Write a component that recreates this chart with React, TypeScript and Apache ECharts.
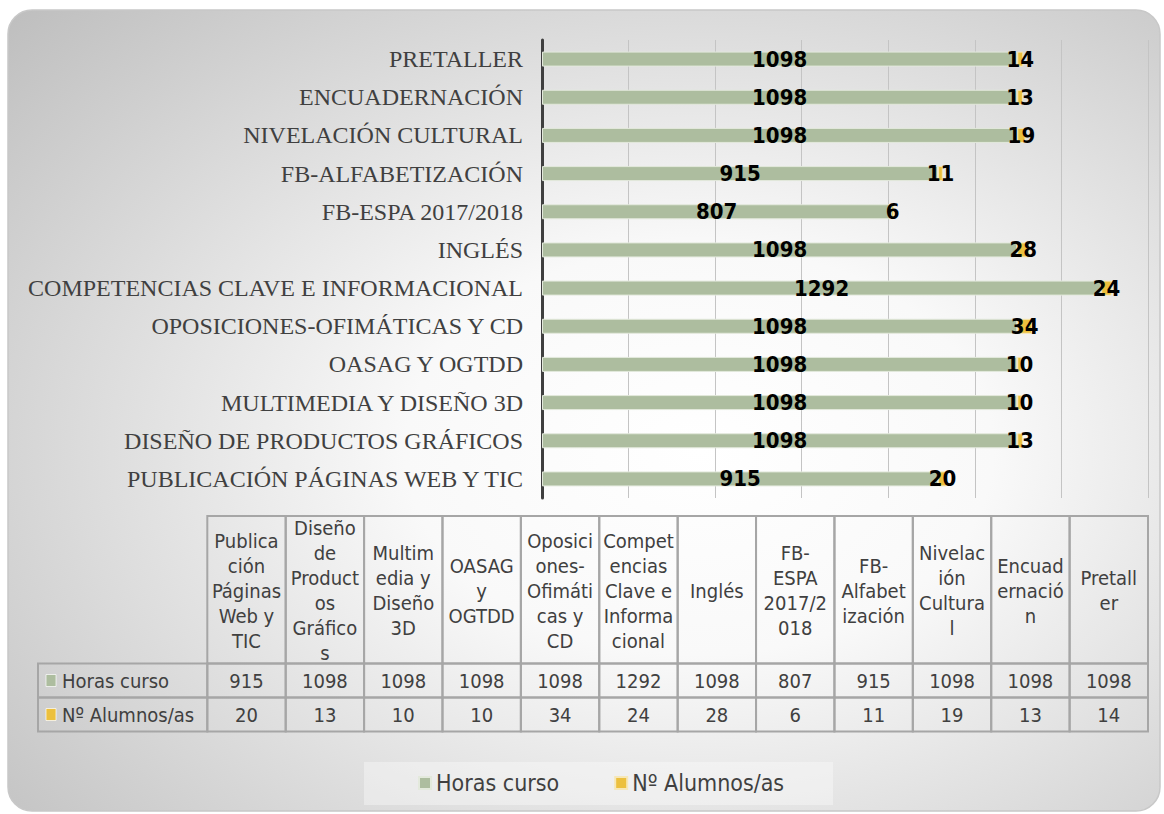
import React, { useEffect, useRef } from "react";
import * as echarts from "echarts";

// ---------- data ----------
const categories = [
  "PUBLICACIÓN PÁGINAS WEB Y TIC",
  "DISEÑO DE PRODUCTOS GRÁFICOS",
  "MULTIMEDIA Y DISEÑO 3D",
  "OASAG Y OGTDD",
  "OPOSICIONES-OFIMÁTICAS Y CD",
  "COMPETENCIAS CLAVE E INFORMACIONAL",
  "INGLÉS",
  "FB-ESPA 2017/2018",
  "FB-ALFABETIZACIÓN",
  "NIVELACIÓN CULTURAL",
  "ENCUADERNACIÓN",
  "PRETALLER",
];

const tableHeaders = [
  "Publica\nción\nPáginas\nWeb y\nTIC",
  "Diseño\nde\nProduct\nos\nGráfico\ns",
  "Multim\nedia y\nDiseño\n3D",
  "OASAG\ny\nOGTDD",
  "Oposici\nones-\nOfimáti\ncas y\nCD",
  "Compet\nencias\nClave e\nInforma\ncional",
  "Inglés",
  "FB-\nESPA\n2017/2\n018",
  "FB-\nAlfabet\nización",
  "Nivelac\nión\nCultura\nl",
  "Encuad\nernació\nn",
  "Pretall\ner",
];

const horasCurso = [915, 1098, 1098, 1098, 1098, 1292, 1098, 807, 915, 1098, 1098, 1098];
const alumnos = [20, 13, 10, 10, 34, 24, 28, 6, 11, 19, 13, 14];
const seriesNames = ["Horas curso", "Nº Alumnos/as"];
const seriesColors = ["#adbd9f", "#ecc03e"];

// ---------- layout ----------
const W = 1164;
const H = 814;
const SANS = "'DejaVu Sans Condensed', 'DejaVu Sans', sans-serif";
const SERIF = "'Liberation Serif', 'Times New Roman', serif";
const TXT = "#404040";
const BORDER = "#a6a6a6";

const T_LEFT = 207.3;
const T_RIGHT = 1148;
const T_HEAD_TOP = 516;
const T_HEAD_BOTTOM = 663.5;
const T_ROW_H = 34;
const T_LABEL_LEFT = 38;

function buildTable(): any[] {
  const els: any[] = [];
  const n = tableHeaders.length;
  const cw = (T_RIGHT - T_LEFT) / n;
  const rows = [horasCurso, alumnos];
  const cellRect = (x: number, y: number, w: number, h: number) => ({
    type: "rect",
    shape: { x, y, width: w, height: h },
    style: { fill: "rgba(0,0,0,0)", stroke: BORDER, lineWidth: 2 },
    silent: true,
  });
  const txt = (x: number, y: number, text: string, align: string) => ({
    type: "text",
    x,
    y,
    silent: true,
    style: {
      text,
      fill: TXT,
      fontSize: 20,
      fontFamily: SANS,
      lineHeight: 25,
      align,
      verticalAlign: "middle",
      textAlign: align,
      textVerticalAlign: "middle",
    },
  });
  for (let i = 0; i < n; i++) {
    const x = T_LEFT + i * cw;
    els.push(cellRect(x, T_HEAD_TOP, cw, T_HEAD_BOTTOM - T_HEAD_TOP));
    els.push(txt(x + cw / 2, (T_HEAD_TOP + T_HEAD_BOTTOM) / 2 + 1, tableHeaders[i], "center"));
    rows.forEach((vals, r) => {
      const y = T_HEAD_BOTTOM + r * T_ROW_H;
      els.push(cellRect(x, y, cw, T_ROW_H));
      els.push(txt(x + cw / 2, y + T_ROW_H / 2, String(vals[i]), "center"));
    });
  }
  seriesNames.forEach((name, r) => {
    const y = T_HEAD_BOTTOM + r * T_ROW_H;
    els.push(cellRect(T_LABEL_LEFT, y, T_LEFT - T_LABEL_LEFT, T_ROW_H));
    els.push({
      type: "rect",
      silent: true,
      shape: { x: 46, y: y + 11, width: 10, height: 12 },
      style: { fill: seriesColors[r], stroke: "rgba(255,255,255,0.7)", lineWidth: 1 },
    });
    els.push(txt(62, y + T_ROW_H / 2, name, "left"));
  });
  return els;
}

export default function App() {
  const ref = useRef<HTMLDivElement>(null);

  useEffect(() => {
    if (!ref.current) return;
    const chart = echarts.init(ref.current, undefined, { renderer: "svg" });

    const labelStyle = {
      show: true,
      position: "inside",
      color: "#000000",
      fontWeight: "bold",
      fontSize: 22,
      fontFamily: SANS,
      textBorderWidth: 0,
    };

    const option: any = {
      animation: false,
      backgroundColor: "#ffffff",
      graphic: [
        {
          type: "rect",
          z: -10,
          silent: true,
          shape: { x: 8, y: 10, width: 1152, height: 801, r: 24 },
          style: {
            fill: new echarts.graphic.RadialGradient(0.6, 0.55, 0.85, [
              { offset: 0, color: "#ffffff" },
              { offset: 0.3, color: "#f9f9f9" },
              { offset: 1, color: "#bababa" },
            ]),
            stroke: "#c8c8c8",
            lineWidth: 1.5,
          },
        },
        {
          type: "rect",
          z: -5,
          silent: true,
          shape: { x: 364, y: 762, width: 469, height: 43 },
          style: { fill: "rgba(255,255,255,0.35)" },
        },
        ...buildTable(),
      ],
      legend: {
        data: seriesNames,
        left: 418,
        top: 771,
        padding: 0,
        icon: "rect",
        itemWidth: 12,
        itemHeight: 12,
        itemGap: 55,
        textStyle: { fontFamily: SANS, fontSize: 23, color: TXT, lineHeight: 24 },
      },
      grid: { left: 542, right: W - 1148, top: 40, bottom: H - 498 },
      xAxis: {
        type: "value",
        min: 0,
        max: 1400,
        interval: 200,
        axisLabel: { show: false },
        axisLine: { show: false },
        axisTick: { show: false },
        splitLine: { show: true, lineStyle: { color: "#c4c4c4", width: 1 } },
      },
      yAxis: {
        type: "category",
        data: categories,
        axisLine: { show: true, lineStyle: { color: "#3f3f3f", width: 3 } },
        axisTick: { show: false },
        axisLabel: { fontFamily: SERIF, fontSize: 24, color: TXT, margin: 19 },
      },
      series: [
        {
          name: seriesNames[0],
          type: "bar",
          stack: "total",
          data: horasCurso,
          barWidth: 15,
          itemStyle: { color: seriesColors[0], borderColor: "#e3e9dc", borderWidth: 1 },
          label: labelStyle,
        },
        {
          name: seriesNames[1],
          type: "bar",
          stack: "total",
          data: alumnos,
          barWidth: 15,
          itemStyle: { color: seriesColors[1], borderColor: "#f6e7b8", borderWidth: 1 },
          label: labelStyle,
        },
      ],
    };

    chart.setOption(option);
    return () => chart.dispose();
  }, []);

  return (
    <div
      ref={ref}
      style={{ position: "absolute", left: 0, top: 0, width: W, height: H }}
    />
  );
}
